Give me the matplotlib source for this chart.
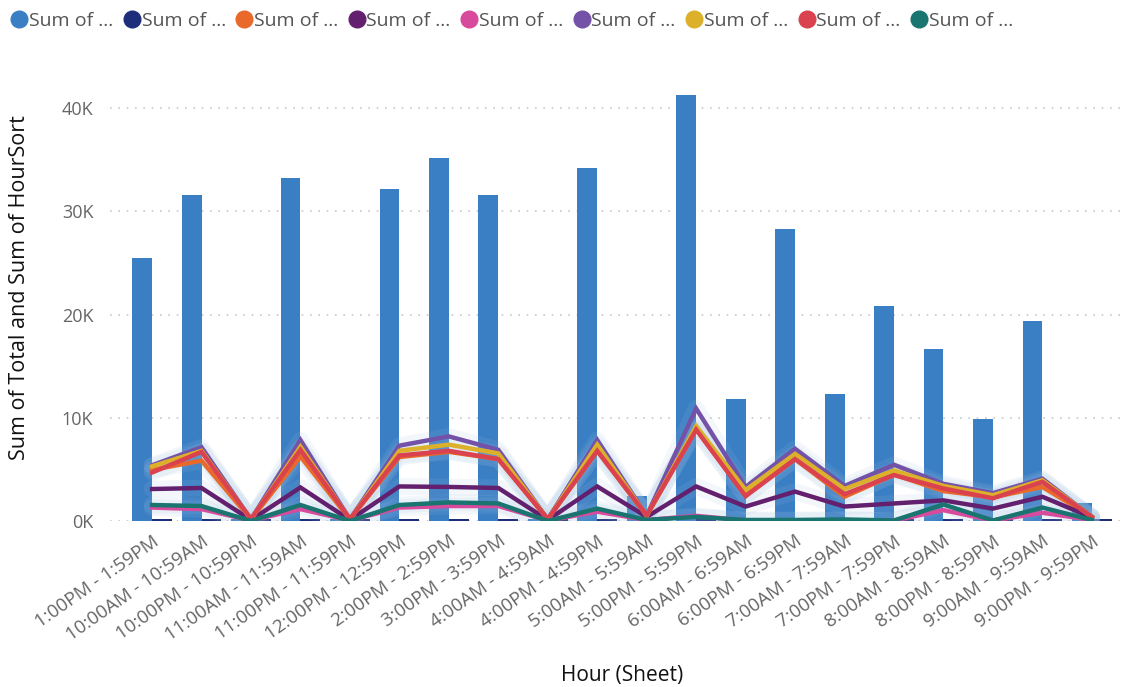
import matplotlib
matplotlib.use("Agg")
import matplotlib.pyplot as plt
import numpy as np
from matplotlib.lines import Line2D

plt.rcParams['font.family'] = ['Open Sans', 'DejaVu Sans']

hours = ["1:00PM - 1:59PM", "10:00AM - 10:59AM", "10:00PM - 10:59PM", "11:00AM - 11:59AM",
         "11:00PM - 11:59PM", "12:00PM - 12:59PM", "2:00PM - 2:59PM", "3:00PM - 3:59PM",
         "4:00AM - 4:59AM", "4:00PM - 4:59PM", "5:00AM - 5:59AM", "5:00PM - 5:59PM",
         "6:00AM - 6:59AM", "6:00PM - 6:59PM", "7:00AM - 7:59AM", "7:00PM - 7:59PM",
         "8:00AM - 8:59AM", "8:00PM - 8:59PM", "9:00AM - 9:59AM", "9:00PM - 9:59PM"]

total = [25500, 31600, 150, 33200, 150, 32200, 35200, 31600, 200, 34200,
         2400, 41300, 11800, 28300, 12300, 20800, 16700, 9900, 19400, 1700]
hoursort = [200, 200, 200, 200, 200, 200, 200, 200, 200, 200,
            200, 200, 200, 200, 200, 200, 200, 200, 200, 200]

s_orange = [4950, 5850, 150, 6250, 150, 6200, 6700, 6000, 150, 6800,
            500, 8900, 2500, 6000, 2350, 4500, 2900, 2300, 3300, 400]
s_darkpurple = [3100, 3200, 100, 3250, 100, 3350, 3300, 3200, 100, 3350,
                400, 3350, 1400, 2850, 1400, 1700, 2000, 1200, 2350, 350]
s_pink = [1300, 1150, 50, 1150, 50, 1300, 1450, 1450, 50, 900,
          100, 500, 50, 50, 50, 50, 1050, 50, 800, 100]
s_purple = [5400, 7150, 150, 7850, 150, 7300, 8200, 6900, 150, 7850,
            500, 10900, 3300, 7000, 3400, 5450, 3600, 2700, 4100, 400]
s_yellow = [5300, 6800, 150, 7200, 150, 6800, 7400, 6550, 150, 7400,
            500, 9200, 3000, 6500, 3100, 4900, 3400, 2500, 3950, 400]
s_red = [4700, 6700, 200, 6900, 200, 6350, 6800, 6000, 200, 6800,
         550, 8850, 2400, 6000, 2600, 4450, 3150, 2200, 3800, 400]
s_teal = [1550, 1450, 0, 1550, 0, 1550, 1800, 1700, 0, 1200,
          100, 400, 100, 100, 150, 50, 1600, 50, 1300, 100]

c_total = "#3a7fc4"
c_hs = "#1f2e7a"
line_series = [
    (s_orange, "#e8692a"),
    (s_darkpurple, "#63206e"),
    (s_pink, "#d84a9c"),
    (s_purple, "#7352a8"),
    (s_yellow, "#dcb02a"),
    (s_red, "#d9424e"),
    (s_teal, "#1a7470"),
]

fig = plt.figure(figsize=(11.29, 6.87), dpi=100)
ax = fig.add_axes([110/1129, 166/687, 1013/1129, 454/687])

x = np.arange(len(hours))
w = 0.4
ax.bar(x - w/2, total, width=w, color=c_total, zorder=2)
ax.bar(x + w/2, hoursort, width=w, color=c_hs, zorder=2)

# soft halo under the lines
for vals, col in line_series:
    ax.plot(x, vals, color="#9fbfe0", lw=12, alpha=0.12, solid_joinstyle='round',
            solid_capstyle='round', zorder=3)
for vals, col in line_series:
    ax.plot(x, vals, color=col, lw=3.2, solid_joinstyle='miter', zorder=4)

ax.set_xlim(-0.85, 19.63)
ax.set_ylim(0, 44000)
ax.set_yticks([0, 10000, 20000, 30000, 40000])
ax.set_yticklabels(["0K", "10K", "20K", "30K", "40K"])
ax.yaxis.grid(True, color="#c8c8c8", linestyle=(0, (1, 4)), lw=1.2)
ax.set_axisbelow(True)
for sp in ax.spines.values():
    sp.set_visible(False)
ax.tick_params(axis='both', length=0, colors="#666666")
ax.tick_params(axis='y', pad=12, labelsize=13)
ax.set_xticks(x)
ax.set_xticklabels(hours, rotation=35, ha='right', rotation_mode='anchor')
ax.tick_params(axis='x', pad=8, labelsize=13.5)

fig.text(20/1129, 1 - 288/687, "Sum of Total and Sum of HourSort", rotation=90,
         fontsize=15.5, color="#111111", ha='center', va='center')
fig.text(622/1129, 12/687, "Hour (Sheet)", fontsize=15, color="#111111",
         ha='center', va='center')

colors = [c_total, c_hs] + [c for _, c in line_series]
handles = [Line2D([0], [0], marker='o', color='w', markerfacecolor=c, markeredgecolor=c,
                  markersize=12, lw=0) for c in colors]
fig.legend(handles, ["Sum of ..."] * 9, loc='upper left', bbox_to_anchor=(0.0, 1.0),
           ncol=9, frameon=False, fontsize=14, handlelength=0.8, handletextpad=0.1,
           columnspacing=0.55, labelcolor="#555555", borderaxespad=0.2)

fig.savefig("out.png", dpi=100)
